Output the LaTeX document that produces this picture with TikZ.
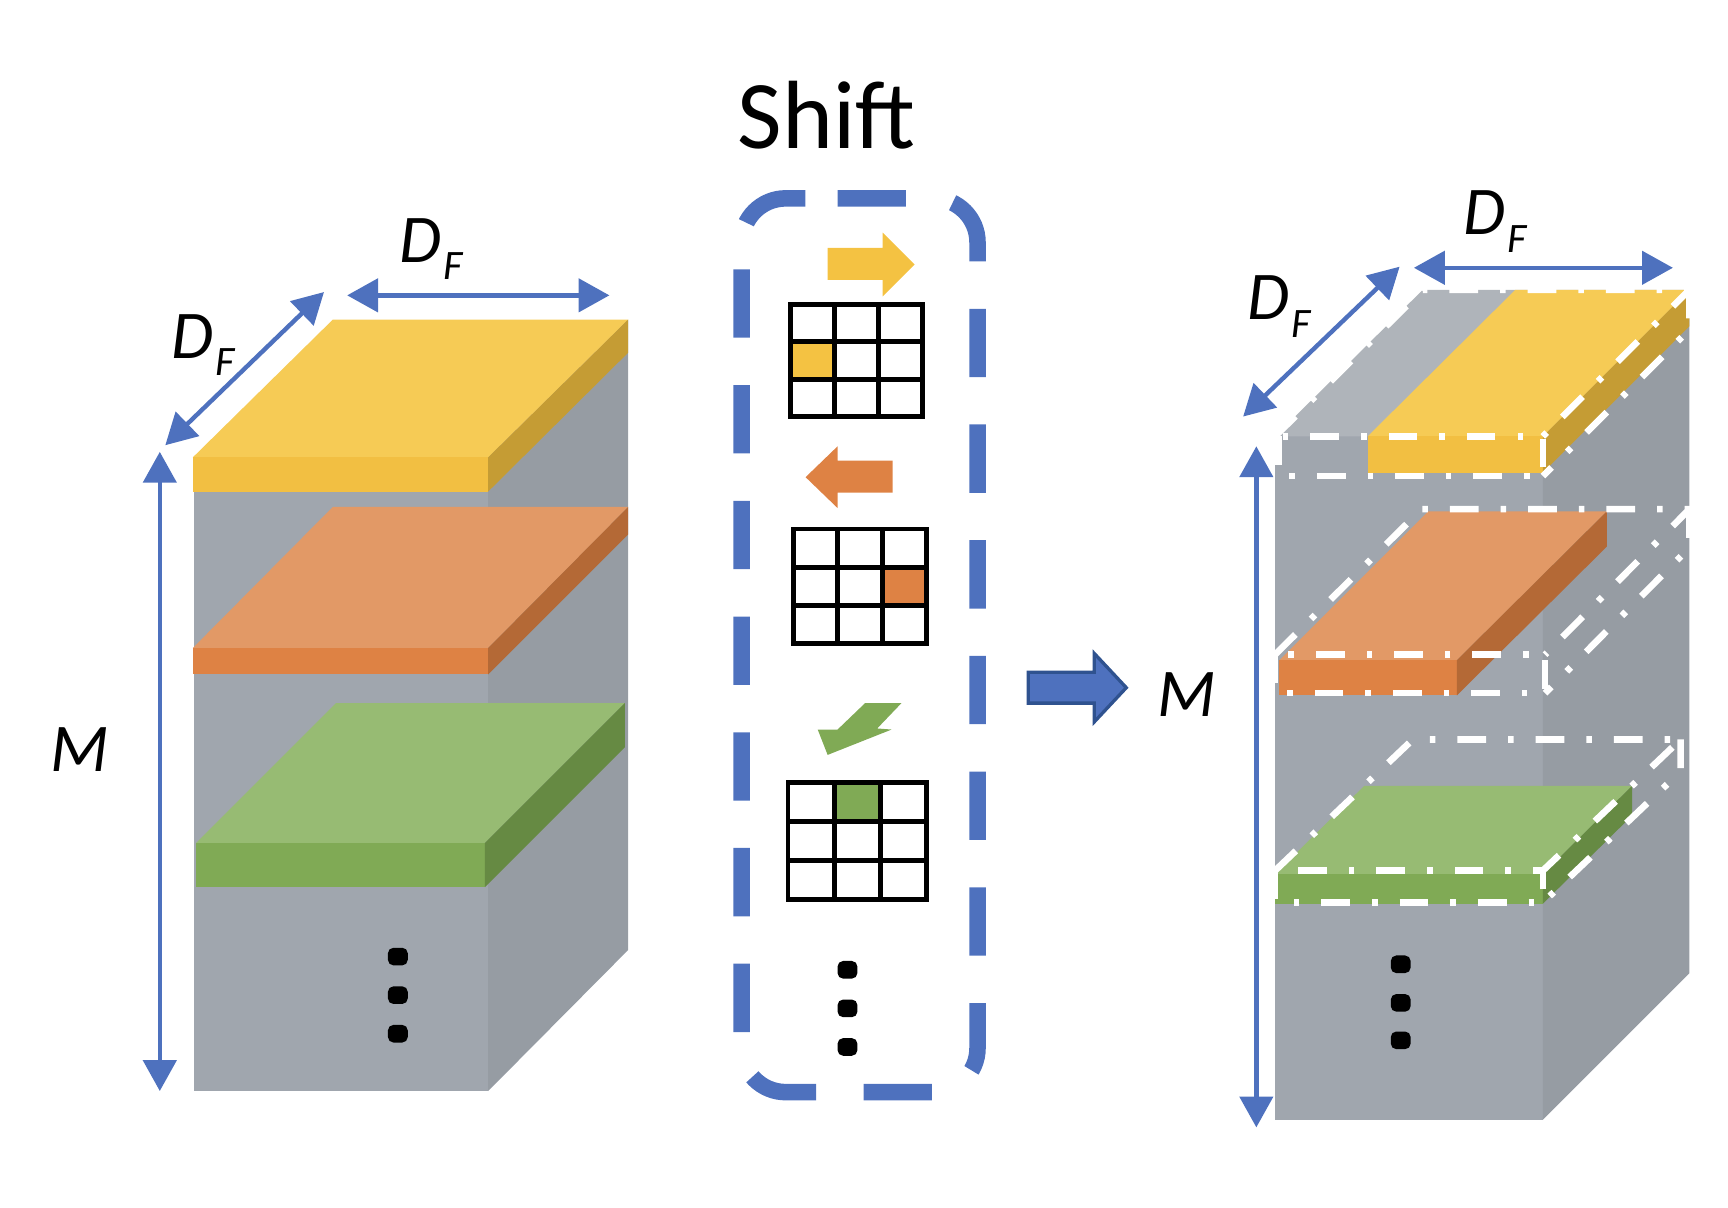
\documentclass[tikz,border=0pt]{standalone}
\usepackage{fontspec}
\setmainfont{Carlito}
\usetikzlibrary{arrows.meta}
\definecolor{bl}{HTML}{4E71BE}
\definecolor{bldark}{HTML}{2F528F}
\definecolor{gfront}{HTML}{A0A6AE}
\definecolor{gside}{HTML}{969CA3}
\definecolor{gtop}{HTML}{AFB4BA}
\definecolor{ytop}{HTML}{F6CB55}
\definecolor{yfront}{HTML}{F2BF42}
\definecolor{yside}{HTML}{C59C34}
\definecolor{ycell}{HTML}{F4C242}
\definecolor{otop}{HTML}{E29966}
\definecolor{ofront}{HTML}{DE8244}
\definecolor{oside}{HTML}{B46936}
\definecolor{gntop}{HTML}{97BB73}
\definecolor{gnfront}{HTML}{80AA55}
\definecolor{gnside}{HTML}{668A43}
\newcommand{\DFlab}{D\kern0.8pt\raisebox{-8pt}{\fontsize{19}{19}\selectfont F}}
\tikzset{
  dimarrow/.style={draw=bl, line width=2pt,
    {Triangle[length=14pt,width=15pt]}-{Triangle[length=14pt,width=15pt]}},
  lab/.style={inner sep=0pt, font=\fontsize{31}{31}\selectfont\itshape},
  dotm/.style={fill=black, rounded corners=2.5pt, minimum width=9pt,
    minimum height=8pt, inner sep=0pt},
  gridl/.style={draw=black, line width=2.2pt},
  wdd/.style={draw=white, line width=3pt,
    dash pattern=on 13pt off 10pt on 2.5pt off 10pt},
  shiftbox/.style={draw=bl, line width=7.5pt,
    dash pattern=on 31pt off 21.5pt},
  bigarrow/.style={fill=bl, draw=bldark, line width=1.5pt}
}
\begin{document}
\begin{tikzpicture}[x=0.5pt,y=-0.5pt]
\useasboundingbox (0,0) rectangle (1568,1096);

% ---------- left cube ----------
\fill[gfront] (176,415) rectangle (443,990);
\fill[gside] (443,415) -- (570,290) -- (570,862) -- (443,990) -- cycle;
% yellow slab
\fill[ytop] (175,415) -- (302,290) -- (570,290) -- (443,415) -- cycle;
\fill[yfront] (175,415) rectangle (443,446);
\fill[yside] (443,415) -- (570,290) -- (570,320) -- (443,446) -- cycle;
% orange slab
\fill[otop] (175,588) -- (302,460) -- (570,460) -- (443,588) -- cycle;
\fill[ofront] (175,588) rectangle (443,612);
\fill[oside] (443,588) -- (570,460) -- (570,485) -- (443,612) -- cycle;
% green slab
\fill[gntop] (178,765) -- (305,638) -- (567,638) -- (440,765) -- cycle;
\fill[gnfront] (178,765) rectangle (440,805);
\fill[gnside] (440,765) -- (567,638) -- (567,678) -- (440,805) -- cycle;
% dots
\node[dotm] (ld1) at (361,868) {};
\node[dotm] (ld2) at (361,903) {};
\node[dotm] (ld3) at (361,938) {};
% dimension arrows
\coordinate (lmT) at (145,410); \coordinate (lmB) at (145,990);
\draw[dimarrow] (lmT) -- (lmB);
\coordinate (ldA) at (150,404); \coordinate (ldB) at (294,265);
\draw[dimarrow] (ldA) -- (ldB);
\coordinate (lhA) at (315,268); \coordinate (lhB) at (553,268);
\draw[dimarrow] (lhA) -- (lhB);
\node[lab, anchor=base west] (ldf1) at (155,325) {\DFlab};
\node[lab, anchor=base west] (ldf2) at (362,238) {\DFlab};
\node[lab, anchor=base west] (lm) at (45,700) {M};

% ---------- center ----------
\node[anchor=base, inner sep=0pt, font=\fontsize{44}{44}\selectfont] (shift) at (750,135) {Shift};
\draw[shiftbox] (760,180) -- (847,180) arc[start angle=90,end angle=0,radius=20pt]
  -- (887,951) arc[start angle=0,end angle=-90,radius=20pt]
  -- (713,991) arc[start angle=-90,end angle=-180,radius=20pt]
  -- (673,220) arc[start angle=180,end angle=90,radius=20pt] -- cycle;

% yellow right arrow
\fill[ycell] (751,225) -- (801,225) -- (801,211) -- (830,240) -- (801,269) -- (801,254) -- (751,254) -- cycle;
% grid 1
\fill[ycell] (717,310) rectangle (757,344);
\draw[gridl] (717,276) rectangle (837,378)
  (757,276) -- (757,378) (797,276) -- (797,378)
  (717,310) -- (837,310) (717,344) -- (837,344);
% orange left arrow
\fill[ofront] (810,418) -- (760,418) -- (760,405) -- (731,433) -- (760,461) -- (760,447) -- (810,447) -- cycle;
% grid 2
\fill[ofront] (800.7,514.7) rectangle (841,549.3);
\draw[gridl] (720,480) rectangle (841,584)
  (760.3,480) -- (760.3,584) (800.7,480) -- (800.7,584)
  (720,514.7) -- (841,514.7) (720,549.3) -- (841,549.3);
% green arrow
\fill[gnfront] (785,638) -- (818,638) -- (796,661) -- (809,662) -- (751,685) -- (742,662) -- (760,662) -- cycle;
% grid 3
\fill[gnfront] (757,710) rectangle (799,745.3);
\draw[gridl] (715,710) rectangle (841,816)
  (757,710) -- (757,816) (799,710) -- (799,816)
  (715,745.3) -- (841,745.3) (715,780.7) -- (841,780.7);
% dots
\node[dotm] (cd1) at (769,880) {};
\node[dotm] (cd2) at (769,915) {};
\node[dotm] (cd3) at (769,950) {};

% big arrow
\draw[bigarrow] (933,610) -- (993,610) -- (993,593) -- (1022,624) -- (993,655) -- (993,638) -- (933,638) -- cycle;
\node[lab, anchor=base west] (rm) at (1050,650) {M};

% ---------- right cube ----------
\fill[gfront] (1157,396) rectangle (1400,1016);
\fill[gside] (1400,396) -- (1533,263) -- (1533,883) -- (1400,1016) -- cycle;
\fill[gtop] (1157,396) -- (1291,263) -- (1533,263) -- (1400,396) -- cycle;
% shifted yellow
\fill[ytop] (1241,396) -- (1375,263) -- (1533,263) -- (1400,396) -- cycle;
\fill[yfront] (1241,396) rectangle (1400,429);
\fill[yside] (1400,396) -- (1533,263) -- (1533,296) -- (1400,429) -- cycle;
% shifted orange
\fill[otop] (1161,599) -- (1296,464) -- (1458,464) -- (1322,599) -- cycle;
\fill[ofront] (1161,599) rectangle (1322,631);
\fill[oside] (1322,599) -- (1458,464) -- (1458,496) -- (1322,631) -- cycle;
% shifted green
\fill[gntop] (1157,793) -- (1238,713) -- (1481,713) -- (1400,793) -- cycle;
\fill[gnfront] (1157,793) rectangle (1400,820);
\fill[gnside] (1400,793) -- (1481,713) -- (1481,740) -- (1400,820) -- cycle;
% original positions (white dash-dot)
\draw[wdd] (1160,396) rectangle (1400,432);
\draw[wdd] (1157,396) -- (1291,263) -- (1533,263) -- (1400,396);
\draw[wdd] (1533,263) -- (1533,299) -- (1400,432);
\draw[wdd] (1157,594) rectangle (1402,629);
\draw[wdd] (1157,594) -- (1290,462) -- (1533,462) -- (1402,594);
\draw[wdd] (1533,462) -- (1533,497) -- (1402,629);
\draw[wdd] (1157,790) rectangle (1400,819);
\draw[wdd] (1157,790) -- (1282,671) -- (1525,671) -- (1400,790);
\draw[wdd] (1525,671) -- (1525,700) -- (1400,819);
% dots
\node[dotm] (rd1) at (1271,875) {};
\node[dotm] (rd2) at (1271,910) {};
\node[dotm] (rd3) at (1271,944) {};
% dimension arrows
\coordinate (rmT) at (1140,405); \coordinate (rmB) at (1140,1023);
\draw[dimarrow] (rmT) -- (rmB);
\coordinate (rdA) at (1128,378); \coordinate (rdB) at (1270,242);
\draw[dimarrow] (rdA) -- (rdB);
\coordinate (rhA) at (1283,243); \coordinate (rhB) at (1518,243);
\draw[dimarrow] (rhA) -- (rhB);
\node[lab, anchor=base west] (rdf1) at (1132,290) {\DFlab};
\node[lab, anchor=base west] (rdf2) at (1328,213) {\DFlab};
\end{tikzpicture}
\end{document}
